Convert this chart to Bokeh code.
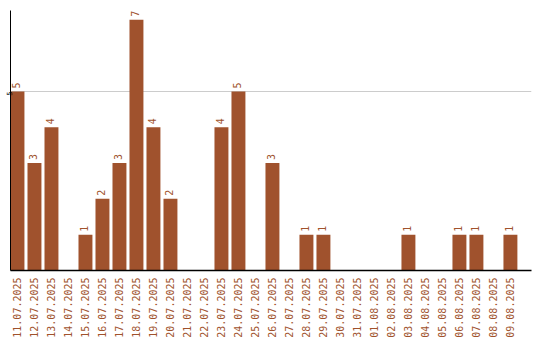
import math
from bokeh.plotting import figure
from bokeh.models import ColumnDataSource, FixedTicker, Range1d
from bokeh.core.properties import value
from bokeh.embed import file_html
from bokeh.resources import INLINE

dates = ["11.07.2025", "12.07.2025", "13.07.2025", "14.07.2025", "15.07.2025",
         "16.07.2025", "17.07.2025", "18.07.2025", "19.07.2025", "20.07.2025",
         "21.07.2025", "22.07.2025", "23.07.2025", "24.07.2025", "25.07.2025",
         "26.07.2025", "27.07.2025", "28.07.2025", "29.07.2025", "30.07.2025",
         "31.07.2025", "01.08.2025", "02.08.2025", "03.08.2025", "04.08.2025",
         "05.08.2025", "06.08.2025", "07.08.2025", "08.08.2025", "09.08.2025"]
counts = [5, 3, 4, 0, 1, 2, 3, 7, 4, 2,
          0, 0, 4, 5, 0, 3, 0, 1, 1, 0,
          0, 0, 0, 1, 0, 0, 1, 1, 0, 1]
y_ticks = [5]

BROWN = "#a0522d"
FONT = "DejaVu Sans Mono"
BAR_W = 0.82

idx = list(range(len(dates)))
src = ColumnDataSource(dict(
    x=idx, count=counts,
    label=[str(c) if c > 0 else "" for c in counts],
))

p = figure(x_range=Range1d(-BAR_W / 2, -BAR_W / 2 + 30.65), y_range=Range1d(0, 7.26),
           width=540, height=340,
           min_border_left=10, min_border_right=9, min_border_top=10, min_border_bottom=0,
           output_backend="svg", toolbar_location=None, outline_line_color=None,
           background_fill_color="white", border_fill_color="white")

p.vbar(x="x", top="count", width=BAR_W, source=src, color=BROWN, line_color=None)
p.text(x="x", y="count", text="label", source=src, angle=math.pi / 2,
       text_align="left", text_baseline="middle", x_offset=-1, y_offset=-3,
       text_color=BROWN, text_font=value(FONT), text_font_size="10px")

p.xgrid.visible = False
p.ygrid.ticker = FixedTicker(ticks=y_ticks)
p.ygrid.grid_line_color = "#cccccc"

p.yaxis.ticker = FixedTicker(ticks=y_ticks)
p.yaxis.major_tick_line_color = None
p.yaxis.minor_tick_line_color = None
p.yaxis.major_tick_out = 0
p.yaxis.major_tick_in = 0
p.yaxis.minor_tick_out = 0
p.yaxis.major_label_orientation = math.pi / 2
p.yaxis.major_label_text_font = FONT
p.yaxis.major_label_text_font_size = "7px"
p.yaxis.major_label_text_color = "black"
p.yaxis.major_label_standoff = 1
p.yaxis.axis_line_color = "black"

p.xaxis.ticker = FixedTicker(ticks=idx)
p.xaxis.major_label_overrides = {i: d for i, d in zip(idx, dates)}
p.xaxis.major_tick_line_color = None
p.xaxis.minor_tick_line_color = None
p.xaxis.major_tick_out = 0
p.xaxis.major_tick_in = 0
p.xaxis.minor_tick_out = 0
p.xaxis.major_label_orientation = math.pi / 2
p.xaxis.major_label_text_font = FONT
p.xaxis.major_label_text_font_size = "10px"
p.xaxis.major_label_text_color = BROWN
p.xaxis.major_label_standoff = 7
p.xaxis.axis_line_color = "black"
p.xaxis.axis_line_width = 1.5

open("out.html", "w").write(file_html(p, INLINE))
